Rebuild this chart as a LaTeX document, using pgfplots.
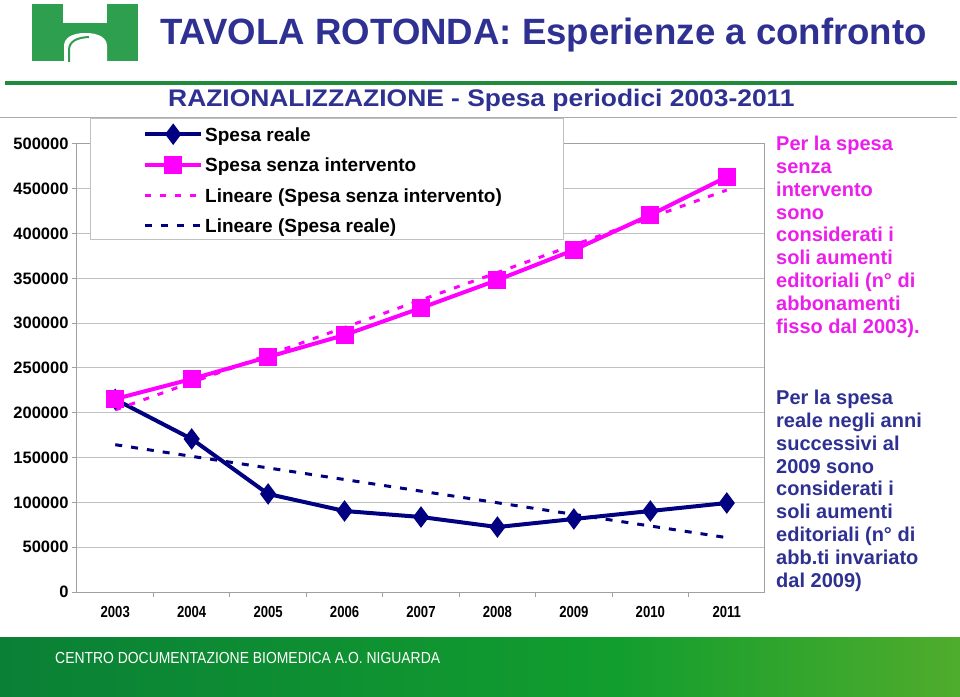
\documentclass[border=0pt]{standalone}
\usepackage{pgfplots}
\usepackage{pgfplotstable}
\pgfplotsset{compat=1.18}
\usepackage{fontspec}
\setmainfont{Liberation Sans}
\newfontfamily\narrowA[FakeStretch=0.82]{Liberation Sans}
\newfontfamily\wideA[FakeStretch=1.1]{Liberation Sans}
\newfontfamily\footfont[FakeStretch=0.87]{Liberation Sans}

\definecolor{navytitle}{RGB}{46,49,146}
\definecolor{logogreen}{RGB}{46,158,79}
\definecolor{linegreen}{RGB}{30,140,58}
\definecolor{reale}{RGB}{0,0,128}
\definecolor{senza}{RGB}{255,0,255}
\definecolor{magtext}{RGB}{235,30,235}
\definecolor{gridgray}{RGB}{192,192,192}
\definecolor{axisgray}{RGB}{160,160,160}
\definecolor{footA}{RGB}{10,128,54}
\definecolor{footB}{RGB}{18,158,46}
\definecolor{footC}{RGB}{80,172,44}

\pgfplotstableread{
year reale senza
2003 215000 215400
2004 170800 237700
2005 109400 262300
2006 90400 286800
2007 83700 317000
2008 72500 348200
2009 81500 381700
2010 90400 420800
2011 99300 463200
}\datatable

\pgfplotstableread{
year trendsenza trendreale
2003 203200 164400
2011 448600 60700
}\trendtable

\begin{document}
\begin{tikzpicture}[x=1pt,y=1pt]
\useasboundingbox (0,0) rectangle (960,696);
\fill[white] (0,0) rectangle (960,696);

% decorations in image coordinates
\begin{scope}[shift={(0,696)}, yscale=-1]
  \fill[logogreen] (32,4) rectangle (138,61);
  \fill[white] (63,3) rectangle (107,23);
  \fill[white] (64,62) -- (64,46) .. controls (64,38) and (72,33) .. (85.5,33)
     .. controls (99,33) and (107,38) .. (107,46) -- (107,62) -- cycle;
  \draw[logogreen, line width=2] (69,62) -- (69,50) .. controls (69,42) and (76,37.5) .. (89,37);
  \draw[linegreen, line width=3.5] (5,83) -- (957,83);
  \draw[gridgray!90!black, line width=1.2] (0,117.5) -- (957,117.5);
  \shade[left color=footA, right color=footB] (0,637) rectangle (620,696);
  \shade[left color=footB, right color=footC] (619.5,637) rectangle (960,696);
\end{scope}

\node[anchor=base west, inner sep=0, text=navytitle, font=\bfseries\fontsize{36.6}{36.6}\selectfont] at (160,651) {TAVOLA ROTONDA: Esperienze a confronto};
\node[anchor=base west, inner sep=0, text=navytitle, font=\wideA\bfseries\fontsize{24}{24}\selectfont] at (168,589) {RAZIONALIZZAZIONE - Spesa periodici 2003-2011};
\node[anchor=west, inner sep=0, text=white, font=\footfont\fontsize{16}{16}\selectfont] at (55,38) {CENTRO DOCUMENTAZIONE BIOMEDICA A.O. NIGUARDA};

\begin{axis}[
  at={(77pt,104pt)}, anchor=south west,
  width=688pt, height=448pt, scale only axis,
  xmin=2002.5, xmax=2011.5, ymin=0, ymax=500000,
  clip=false,
  axis line style={draw=axisgray, line width=1pt},
  tick align=outside,
  xtick pos=bottom, ytick pos=left,
  xtick={2003,2004,2005,2006,2007,2008,2009,2010,2011},
  xticklabels={2003,2004,2005,2006,2007,2008,2009,2010,2011},
  minor x tick num=1,
  major x tick style={draw=none},
  minor x tick style={draw=axisgray, line width=1pt},
  minor tick length=5pt,
  xticklabel style={font=\narrowA\bfseries\fontsize{16}{16}\selectfont, yshift=-6pt},
  ytick={0,50000,100000,150000,200000,250000,300000,350000,400000,450000,500000},
  yticklabels={0,50000,100000,150000,200000,250000,300000,350000,400000,450000,500000},
  scaled y ticks=false,
  ymajorgrids,
  major grid style={draw=gridgray, line width=1pt},
  major y tick style={draw=axisgray, line width=1pt},
  major tick length=5pt,
  yticklabel style={font=\bfseries\fontsize{16.5}{16.5}\selectfont},
  legend image code/.code={\path[draw=none, fill=none] (0pt,-8pt) rectangle (56pt,8pt);
     \draw[mark repeat=2,mark phase=2,#1] plot coordinates {(0pt,1pt) (28pt,1pt) (56pt,1pt)};},
  legend style={at={(axis description cs:0.0959,1.0416)}, anchor=north west,
     draw=none, fill=none, inner sep=0pt,
     font=\bfseries\fontsize{19}{19}\selectfont,
     row sep=11.2pt,
     /tikz/every even column/.append style={column sep=3pt}},
  legend cell align=left,
]
\addplot[reale, line width=4pt, mark=diamond*, mark size=7.5pt, mark options={solid}] table[x=year, y=reale] {\datatable};
\addlegendentry{Spesa reale}
\addplot[senza, line width=4pt, mark=square*, mark size=7pt, mark options={solid}] table[x=year, y=senza] {\datatable};
\addlegendentry{Spesa senza intervento}
\addplot[senza, line width=3pt, dash pattern=on 6pt off 9pt] table[x=year, y=trendsenza] {\trendtable};
\addlegendentry{Lineare (Spesa senza intervento)}
\addplot[reale, line width=3pt, dash pattern=on 7pt off 9pt] table[x=year, y=trendreale] {\trendtable};
\addlegendentry{Lineare (Spesa reale)}
\draw[draw=gridgray, line width=1pt, fill=white] (axis description cs:0.0189,1.0580) rectangle (axis description cs:0.7064,0.7879);
\end{axis}

\foreach \t [count=\i] in {{Per la spesa},{senza},{intervento},{sono},{considerati i},{soli aumenti},{editoriali (n° di},{abbonamenti},{fisso dal 2003).}}{
  \node[anchor=base west, inner sep=0, text=magtext, font=\bfseries\fontsize{20}{20}\selectfont] at (776,{545.3-(\i-1)*22.79}) {\t};
}
\foreach \t [count=\i] in {{Per la spesa},{reale negli anni},{successivi al},{2009 sono},{considerati i},{soli aumenti},{editoriali (n° di},{abb.ti invariato},{dal 2009)}}{
  \node[anchor=base west, inner sep=0, text=navytitle, font=\bfseries\fontsize{20}{20}\selectfont] at (776,{291-(\i-1)*22.75}) {\t};
}
\end{tikzpicture}
\end{document}
